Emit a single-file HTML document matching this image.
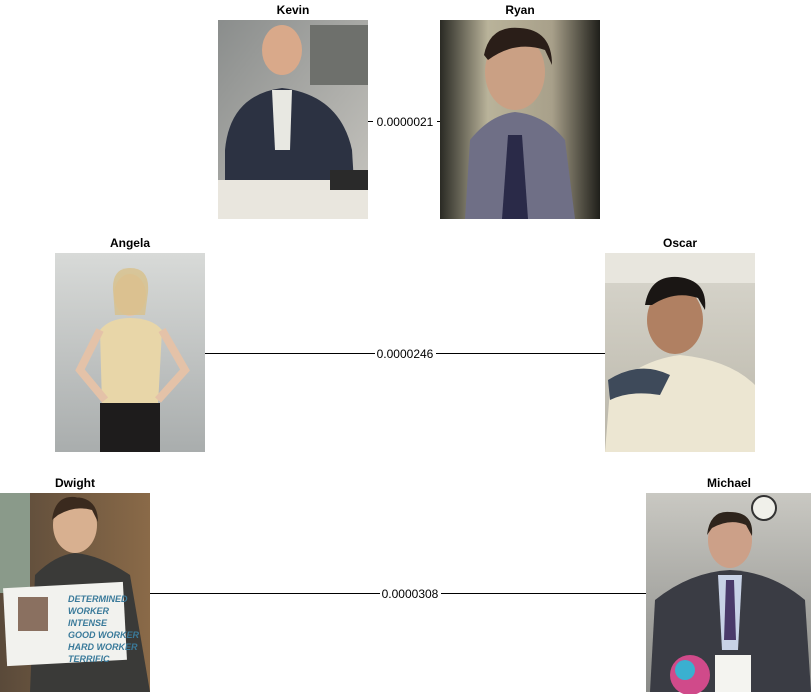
<!DOCTYPE html>
<html><head><meta charset="utf-8"><style>
html,body{margin:0;padding:0;background:#fff;}
body{width:812px;height:694px;overflow:hidden;}
svg{display:block;font-family:"Liberation Sans",Arial,sans-serif;}
</style></head><body>
<svg width="812" height="694" viewBox="0 0 812 694">
<defs>
<linearGradient id="kbg" x1="0" y1="0" x2="1" y2="1"><stop offset="0" stop-color="#8a8d8c"/><stop offset="1" stop-color="#c8c6c0"/></linearGradient>
<linearGradient id="rbg" x1="0" y1="0" x2="1" y2="0"><stop offset="0" stop-color="#2a2a24"/><stop offset="0.3" stop-color="#b9b39a"/><stop offset="0.7" stop-color="#a8a08a"/><stop offset="1" stop-color="#1f1f1a"/></linearGradient>
<linearGradient id="abg" x1="0" y1="0" x2="0" y2="1"><stop offset="0" stop-color="#d8dad8"/><stop offset="1" stop-color="#a9adad"/></linearGradient>
<linearGradient id="obg" x1="0" y1="0" x2="0" y2="1"><stop offset="0" stop-color="#d9d7ce"/><stop offset="1" stop-color="#b9b5a8"/></linearGradient>
<linearGradient id="dbg" x1="0" y1="0" x2="1" y2="0"><stop offset="0" stop-color="#5a4a3a"/><stop offset="1" stop-color="#8a6a48"/></linearGradient>
<linearGradient id="mbg" x1="0" y1="0" x2="0" y2="1"><stop offset="0" stop-color="#c9c8c2"/><stop offset="1" stop-color="#8a8b88"/></linearGradient>
</defs>

<line x1="368" y1="121.5" x2="440" y2="121.5" stroke="#000" stroke-width="1"/>
<line x1="205" y1="353.5" x2="605" y2="353.5" stroke="#000" stroke-width="1"/>
<line x1="150" y1="593.5" x2="646" y2="593.5" stroke="#000" stroke-width="1"/>
<rect x="373" y="113" width="64" height="16" fill="#fff"/>
<rect x="375" y="345" width="61" height="16" fill="#fff"/>
<rect x="380" y="585" width="61" height="16" fill="#fff"/>
<g font-size="12" fill="#000" text-anchor="middle">
<text x="405" y="126">0.0000021</text>
<text x="405" y="358">0.0000246</text>
<text x="410" y="598">0.0000308</text>
</g>

<g font-size="12" font-weight="bold" text-anchor="middle" fill="#000">
<text x="293" y="14">Kevin</text>
<text x="520" y="14">Ryan</text>
<text x="130" y="247">Angela</text>
<text x="680" y="247">Oscar</text>
<text x="75" y="487">Dwight</text>
<text x="729" y="487">Michael</text>
</g>

<g>
<rect x="218" y="20" width="150" height="199" fill="url(#kbg)"/>
<rect x="310" y="25" width="58" height="60" fill="#6e706c"/>
<ellipse cx="282" cy="50" rx="20" ry="25" fill="#d9a98a"/>
<path d="M225 150 Q230 95 282 88 Q340 95 352 150 L355 200 L225 200 Z" fill="#2c3242"/>
<path d="M272 90 L292 90 L290 150 L275 150 Z" fill="#e8e8e2"/>
<rect x="218" y="180" width="150" height="39" fill="#e9e6de"/>
<rect x="330" y="170" width="38" height="20" fill="#2a2a2a"/>
</g>

<g>
<rect x="440" y="20" width="160" height="199" fill="url(#rbg)"/>
<ellipse cx="515" cy="72" rx="30" ry="38" fill="#caa084"/>
<path d="M484 55 Q490 25 520 28 Q552 30 552 65 L545 50 Q515 40 488 60 Z" fill="#2a1e18"/>
<path d="M465 219 L470 140 Q490 115 515 112 Q545 115 565 140 L575 219 Z" fill="#6f6f86"/>
<path d="M508 135 L522 135 L528 219 L502 219 Z" fill="#2a2a48"/>
</g>

<g>
<rect x="55" y="253" width="150" height="199" fill="url(#abg)"/>
<ellipse cx="130" cy="295" rx="16" ry="21" fill="#e4c2a8"/>
<path d="M113 290 Q112 268 130 268 Q150 268 148 292 L145 315 L115 315 Z" fill="#d8c08a" opacity="0.8"/>
<path d="M100 330 Q110 318 130 318 Q152 318 162 330 L158 405 L102 405 Z" fill="#e8d6a8"/>
<path d="M100 330 L80 370 L105 400" stroke="#e4c2a8" stroke-width="8" fill="none"/>
<path d="M162 330 L185 370 L158 400" stroke="#e4c2a8" stroke-width="8" fill="none"/>
<rect x="100" y="403" width="60" height="49" fill="#1e1c1c"/>
</g>

<g>
<rect x="605" y="253" width="150" height="199" fill="url(#obg)"/>
<rect x="605" y="253" width="150" height="30" fill="#e8e6de"/>
<ellipse cx="675" cy="320" rx="28" ry="34" fill="#b08062"/>
<path d="M645 305 Q650 275 678 277 Q708 280 705 310 L698 298 Q675 290 652 305 Z" fill="#1a1614"/>
<path d="M605 452 L610 390 Q640 360 680 355 Q730 360 755 385 L755 452 Z" fill="#ece6d2"/>
<path d="M608 380 Q640 360 670 375 L660 395 Q630 390 610 400 Z" fill="#3e4a5a"/>
</g>

<g>
<rect x="0" y="493" width="150" height="199" fill="url(#dbg)"/>
<rect x="0" y="493" width="30" height="100" fill="#8a9a8a"/>
<ellipse cx="75" cy="525" rx="22" ry="28" fill="#d8b090"/>
<path d="M52 520 Q55 495 75 497 Q98 498 98 522 L92 510 Q75 505 58 515 Z" fill="#3a2a1e"/>
<path d="M30 692 L35 575 Q55 555 75 553 Q100 555 130 575 L150 692 Z" fill="#3a3a38"/>
<rect x="5" y="585" width="120" height="78" fill="#f2f2ee" transform="rotate(-3 65 624)"/>
<rect x="18" y="597" width="30" height="34" fill="#8a7060"/>
<g font-size="9" font-weight="bold" fill="#3a7a9a" font-style="italic">
<text x="68" y="602">DETERMINED</text>
<text x="68" y="614">WORKER</text>
<text x="68" y="626">INTENSE</text>
<text x="68" y="638">GOOD WORKER</text>
<text x="68" y="650">HARD WORKER</text>
<text x="68" y="662">TERRIFIC</text>
</g>
</g>

<g>
<rect x="646" y="493" width="165" height="199" fill="url(#mbg)"/>
<circle cx="764" cy="508" r="12" fill="#f0f0ea" stroke="#333" stroke-width="2"/>
<ellipse cx="730" cy="540" rx="22" ry="28" fill="#cca088"/>
<path d="M707 535 Q710 510 730 512 Q754 512 752 536 L746 525 Q730 518 712 528 Z" fill="#2e241c"/>
<path d="M650 692 L655 600 Q690 572 730 570 Q772 572 805 600 L811 692 Z" fill="#3a3c44"/>
<path d="M718 575 L742 575 L738 650 L722 650 Z" fill="#c8d2e6"/>
<path d="M726 580 L734 580 L736 640 L724 640 Z" fill="#4a3a6a"/>
<rect x="715" y="655" width="36" height="37" fill="#f4f4f0"/>
<circle cx="690" cy="675" r="20" fill="#d04a8a"/>
<circle cx="685" cy="670" r="10" fill="#3ab0d0"/>
</g>
</svg>
</body></html>
